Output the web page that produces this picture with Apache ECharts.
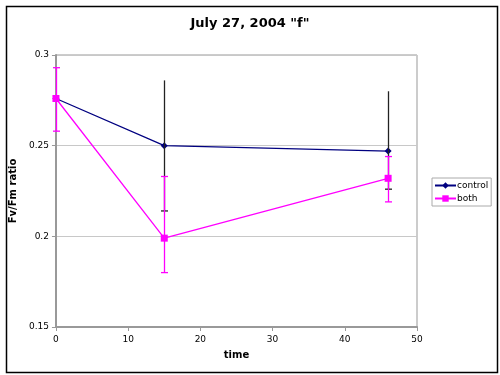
<!DOCTYPE html>
<html><head><meta charset="utf-8">
<script src="https://cdn.jsdelivr.net/npm/echarts@6/dist/echarts.min.js"></script>
<style>html,body{margin:0;padding:0;background:#fff}#c{width:500px;height:375px}</style>
</head><body><div id="c"></div>
<script>
const times = [0, 15, 46];
const controlVals = [0.276, 0.250, 0.247];
const bothVals = [0.276, 0.199, 0.232];
const controlLow = [null, 0.214, 0.226];
const controlHigh = [null, 0.286, 0.280];
const bothLow = [0.258, 0.180, 0.219];
const bothHigh = [0.293, 0.233, 0.244];
const yTicks = [0.15, 0.2, 0.25, 0.3];

const font = 'DejaVu Sans';
const chart = echarts.init(document.getElementById('c'));

function errData(low, high) {
  const out = [];
  times.forEach((t, i) => { if (low[i] != null) out.push([t, low[i], high[i]]); });
  return out;
}
function errRender(color, capTop) {
  return function (params, api) {
    const lo = api.coord([api.value(0), api.value(1)]);
    const hi = api.coord([api.value(0), api.value(2)]);
    const x = Math.round(lo[0]) + 0.5;
    const hw = 3.5;
    const style = { stroke: color, lineWidth: 1.3 };
    const children = [
      { type: 'line', shape: { x1: x, y1: lo[1], x2: x, y2: hi[1] }, style },
      { type: 'line', shape: { x1: x - hw, y1: lo[1], x2: x + hw, y2: lo[1] }, style }
    ];
    if (capTop) children.push({ type: 'line', shape: { x1: x - hw, y1: hi[1], x2: x + hw, y2: hi[1] }, style });
    return { type: 'group', children };
  };
}

chart.setOption({
  animation: false,
  backgroundColor: '#fff',
  title: {
    text: 'July 27, 2004 "f"', left: 'center', top: 12,
    textStyle: { fontFamily: font, fontSize: 13, fontWeight: 'bold', color: '#000' }
  },
  graphic: [{
    type: 'rect', left: 4, top: 4, shape: { width: 491, height: 366 },
    style: { fill: null, stroke: '#000', lineWidth: 1.5 }, silent: true, z: 100
  }],
  legend: {
    orient: 'vertical', left: 432, top: 178,
    itemWidth: 21, itemHeight: 8, itemGap: 4,
    padding: [3, 3, 3, 2],
    borderColor: '#aaa', borderWidth: 1, backgroundColor: '#fff',
    textStyle: { fontFamily: font, fontSize: 9, color: '#000', padding: [0, 0, 0, -4] },
    data: ['control', 'both']
  },
  grid: { left: 55, right: 83, top: 55, bottom: 48, show: true, borderColor: '#999', borderWidth: 1, backgroundColor: '#fff' },
  xAxis: {
    type: 'value', min: 0, max: 50, interval: 10,
    name: 'time', nameLocation: 'middle', nameGap: 23,
    nameTextStyle: { fontFamily: font, fontSize: 10, fontWeight: 'bold', color: '#000' },
    axisLine: { show: true, onZero: false, lineStyle: { color: '#999', width: 2 } },
    axisTick: { show: true, length: 4, lineStyle: { color: '#999' } },
    axisLabel: { fontFamily: font, fontSize: 9, color: '#000', margin: 8 },
    splitLine: { show: false }
  },
  yAxis: {
    type: 'value', min: 0.15, max: 0.3, interval: 0.05,
    name: 'Fv/Fm ratio', nameLocation: 'middle', nameGap: 29,
    nameTextStyle: { fontFamily: font, fontSize: 10, fontWeight: 'bold', color: '#000' },
    axisLine: { show: true, lineStyle: { color: '#999', width: 2 } },
    axisTick: { show: true, length: 4, lineStyle: { color: '#999' } },
    axisLabel: { fontFamily: font, fontSize: 9, color: '#000', margin: 7,
      formatter: v => { const r = yTicks.find(t => Math.abs(t - v) < 1e-9); return r != null ? String(r) : ''; } },
    splitLine: { show: true, lineStyle: { color: '#c8c8c8', width: 1 } }
  },
  series: [
    {
      name: 'control', type: 'line', data: times.map((t, i) => [t, controlVals[i]]),
      symbol: 'diamond', symbolSize: 7, color: '#000080',
      lineStyle: { color: '#000080', width: 1.3 }, itemStyle: { color: '#000080' }, z: 3
    },
    {
      name: 'controlErr', type: 'custom', data: errData(controlLow, controlHigh),
      renderItem: errRender('#222', false), z: 4, silent: true
    },
    {
      name: 'both', type: 'line', data: times.map((t, i) => [t, bothVals[i]]),
      symbol: 'rect', symbolSize: 7, color: '#ff00ff',
      lineStyle: { color: '#ff00ff', width: 1.3 }, itemStyle: { color: '#ff00ff' }, z: 5
    },
    {
      name: 'bothErr', type: 'custom', data: errData(bothLow, bothHigh),
      renderItem: errRender('#ff00ff', true), z: 6, silent: true
    }
  ]
});
</script></body></html>
